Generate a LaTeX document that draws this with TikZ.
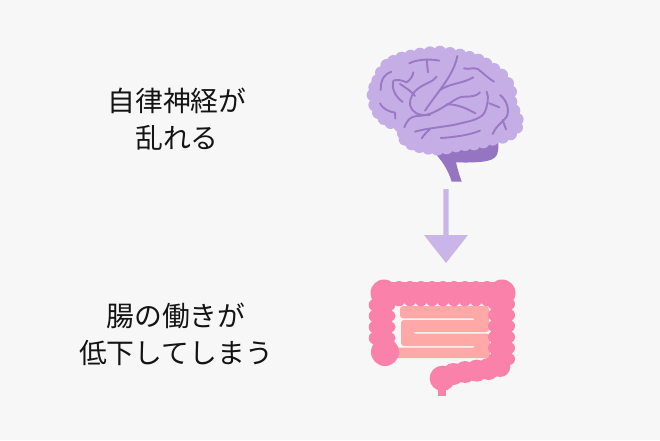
\documentclass[tikz,border=0pt]{standalone}
\usepackage{fontspec}
\newfontfamily\cjk{Noto Sans CJK JP}
\definecolor{bgc}{HTML}{F7F7F7}
\definecolor{brainc}{HTML}{C5AEE6}
\definecolor{sulcus}{HTML}{9A78C4}
\definecolor{stemc}{HTML}{9575C2}
\definecolor{arrowc}{HTML}{C9B5E8}
\definecolor{colonc}{HTML}{FA82AA}
\definecolor{smallc}{HTML}{FFA8A8}
\tikzset{
 label text/.style={font=\cjk\fontsize{27.8}{37}\selectfont,text=black!92,align=center,inner sep=0},
 fold/.style={draw=sulcus,line width=1.9pt,line cap=round,line join=round},
 brainmap/.style={shift={(350,40)},x=0.3333pt,y=-0.3333pt},
 gutmap/.style={shift={(355,270)},x=0.3333pt,y=-0.3333pt},
}
\begin{document}
\begin{tikzpicture}[x=1pt,y=-1pt]
\useasboundingbox (0,0) rectangle (660,440);
\fill[bgc] (0,0) rectangle (660,440);
\node[label text] (t1) at (177,119) {自律神経が\\乱れる};
\node[label text] (t2) at (176,334) {腸の働きが\\低下してしまう};
% brain
\begin{scope}[brainmap]
\fill[stemc] (248,332) -- (445,305) .. controls (447,345) and (440,358) .. (405,364) .. controls (380,368) and (345,368) .. (318,367) .. controls (322,385) and (328,405) .. (335,425) -- (305,425) .. controls (295,390) and (275,360) .. (248,332) -- cycle;
\fill[brainc] (155,290) -- (150,262) -- (115,250) -- (75,215) -- (65,165) -- (75,120) -- (105,70) -- (155,45) -- (205,35) -- (270,30) -- (340,40) -- (400,55) -- (450,85) -- (485,135) -- (490,205) -- (500,245) -- (485,285) -- (440,300) -- (370,312) -- (300,325) -- (250,330) -- (195,320) -- (165,305) -- cycle;
\fill[brainc] \foreach \x/\y in {165/298,185/312,208/320,235/325,262/328,290/324,318/318,345/314,372/312,400/306,428/298,458/292,482/282,500/262,502/238,492/212,483/185,482/155,473/130,455/105,432/88,408/72,385/60,358/52,330/45,300/40,270/36,240/38,210/42,182/48,155/54,130/64,110/76,94/98,83/122,74/142,69/165,74/195,85/218,102/236,122/248,150/258,160/280}{
 (\x,\y) circle (19)};
\draw[fold] (178,70) .. controls (200,58) and (240,56) .. (268,62);
\draw[fold] (230,60) -- (234,97);
\draw[fold] (124,95) .. controls (105,102) and (92,115) .. (92,150);
\draw[fold] (190,97) .. controls (188,110) and (180,120) .. (170,127) .. controls (155,120) and (140,118) .. (130,122) .. controls (125,140) and (130,165) .. (158,186);
\draw[fold] (150,132) .. controls (170,145) and (185,155) .. (195,168);
\draw[fold] (260,110) .. controls (250,125) and (225,130) .. (205,145) .. controls (190,155) and (178,175) .. (180,195) .. controls (185,215) and (200,228) .. (240,225);
\draw[fold] (322,48) .. controls (315,85) and (295,115) .. (270,150) .. controls (255,170) and (240,190) .. (225,212);
\draw[fold] (370,112) .. controls (340,130) and (300,130) .. (270,150);
\draw[fold] (342,85) .. controls (360,90) and (370,80) .. (385,88) .. controls (400,100) and (415,115) .. (432,125);
\draw[fold] (163,262) .. controls (172,240) and (180,230) .. (200,228) .. controls (240,228) and (265,210) .. (290,195) .. controls (310,185) and (320,170) .. (345,170) .. controls (365,170) and (380,168) .. (390,157);
\draw[fold] (290,193) .. controls (320,192) and (350,205) .. (376,220);
\draw[fold] (410,155) .. controls (418,175) and (412,195) .. (405,215) .. controls (395,240) and (350,245) .. (310,255) .. controls (270,262) and (230,265) .. (195,275);
\draw[fold] (240,268) .. controls (230,275) and (222,285) .. (215,295);
\draw[fold] (272,294) .. controls (310,292) and (360,285) .. (390,272);
\draw[fold] (418,190) -- (448,202);
\draw[fold] (450,165) .. controls (470,180) and (480,210) .. (470,230) .. controls (460,245) and (440,255) .. (428,282);
\draw[fold] (458,240) -- (468,268);
\draw[fold] (90,190) .. controls (100,210) and (120,215) .. (135,218) -- (136,236);
\end{scope}
% arrow
\coordinate (a1) at (446,189);
\coordinate (a2) at (446,263);
\fill[arrowc] ([xshift=-2.7pt]a1) -- ([xshift=2.7pt]a1) -- (448.7,235) -- (468,235) -- (a2) -- (424,235) -- (443.3,235) -- cycle;
% small intestine
\fill[smallc,rounded corners=3pt] (400,306) -- (489,306) -- (489,332) -- (412,332) -- (412,333.5) -- (490,333.5) -- (490,358) -- (380,358) -- (380,347.6) -- (476,347.6) -- (476,346) -- (401,346) -- (401,320) -- (476,320) -- (476,318.4) -- (400,318.4) -- cycle;
% colon: solid core first, then all lobes as one path
\fill[colonc] (384,282) rectangle (502,301) (373,293) rectangle (392,352) (491,293) rectangle (510,365);
\fill[colonc] (384,293) circle (13.5) (502,293) circle (13.5) (385,352) circle (14)
 \foreach \x in {399,410,421,432,443,454,465,476,487}{ (\x,287) circle (6) (\x,300) circle (6.3) }
 \foreach \y in {305,316,327,338}{ (375,\y) circle (6.3) (390,\y) circle (5.6) }
 \foreach \y in {304,315,326,337,348,359}{ (494,\y) circle (6) (509,\y) circle (6) };
\begin{scope}[gutmap]
\fill[colonc] \foreach \x/\y/\r in {435/290/31,400/297/33,365/302/33,330/306/33,295/312/33,262/325/38}{ (\x,\y) circle (\r) };
\fill[colonc] (249,355) rectangle (272,377);
\end{scope}
\end{tikzpicture}
\end{document}
